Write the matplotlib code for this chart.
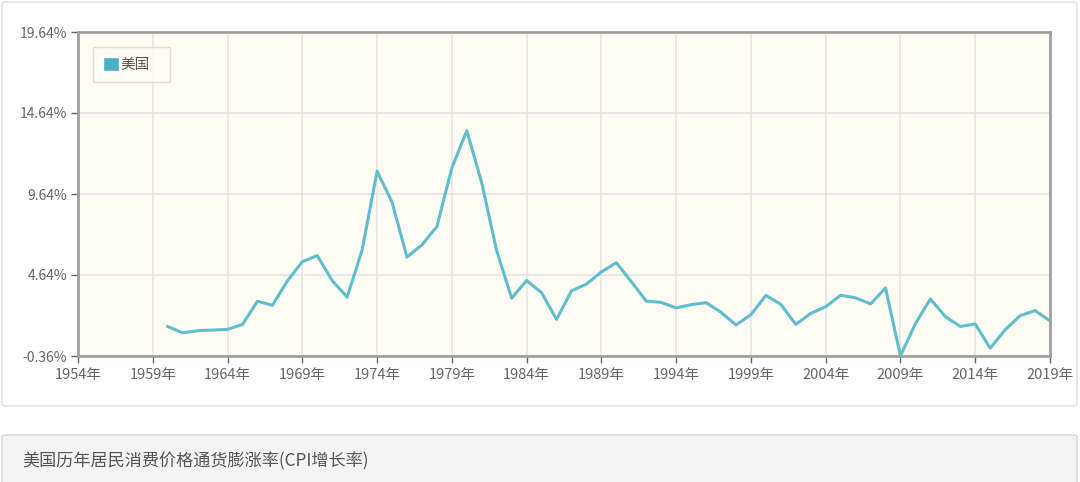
import matplotlib.pyplot as plt
from matplotlib.patches import FancyBboxPatch, Rectangle

plt.rcParams['font.family'] = ['Noto Sans CJK SC', 'DejaVu Sans']

years = list(range(1960, 2020))
cpi = [1.46, 1.07, 1.20, 1.24, 1.28, 1.59, 3.02, 2.77, 4.27, 5.46,
       5.84, 4.29, 3.27, 6.18, 11.05, 9.14, 5.74, 6.50, 7.63, 11.25,
       13.55, 10.33, 6.13, 3.21, 4.30, 3.55, 1.90, 3.66, 4.08, 4.83,
       5.40, 4.23, 3.03, 2.95, 2.61, 2.81, 2.93, 2.34, 1.55, 2.19,
       3.38, 2.83, 1.59, 2.27, 2.68, 3.39, 3.23, 2.85, 3.84, -0.36,
       1.64, 3.16, 2.07, 1.46, 1.62, 0.12, 1.26, 2.13, 2.44, 1.81]
xticks = list(range(1954, 2020, 5))
yticks = [-0.36, 4.64, 9.64, 14.64, 19.64]

W, H = 1080, 482
fig = plt.figure(figsize=(W / 100, H / 100), dpi=100)

# card frames behind the chart
card = FancyBboxPatch((2 / W, 76 / H), 1075 / W, 404 / H,
                      boxstyle='round,pad=0,rounding_size=0.004',
                      transform=fig.transFigure, fc='white', ec='#e3e3e3', lw=1.2, zorder=-5)
foot = FancyBboxPatch((2 / W, -10 / H), 1075 / W, 57 / H,
                      boxstyle='round,pad=0,rounding_size=0.004',
                      transform=fig.transFigure, fc='#f4f4f4', ec='#dcdcdc', lw=1.2, zorder=-5)
fig.patches.extend([card, foot])
fig.text(22 / W, 1 - 461 / H, '美国历年居民消费价格通货膨涨率(CPI增长率)', fontsize=12.3,
         color='#555555', va='center', ha='left')

ax = fig.add_axes([78 / W, 1 - 356 / H, 972 / W, 324 / H])
ax.set_facecolor('#fffcf4')
ax.plot(years, cpi, color='#5fbdd0', lw=2.2)
ax.set_xlim(1954, 2019)
ax.set_ylim(-0.36, 19.64)
ax.set_xticks(xticks)
ax.set_xticklabels([f'{y}年' for y in xticks])
ax.set_yticks(yticks)
ax.set_yticklabels([f'{v:.2f}%' for v in yticks])
ax.grid(True, color='#e2e2e2', lw=1.1)
ax.set_axisbelow(True)
for s in ax.spines.values():
    s.set_color('#a0a0a0')
    s.set_linewidth(2)
ax.tick_params(colors='#666666', length=5, width=1, direction='out')
ax.tick_params(axis='x', labelsize=10.5, pad=4)
ax.tick_params(axis='y', labelsize=10, pad=3)

sq = Rectangle((0, 0), 1, 1, fc='#4bafc9', ec='white', lw=1)
leg = ax.legend([sq], ['美国'], loc='upper left',
                bbox_to_anchor=(15 / 972, 1 - 15 / 324 - 0.01, 77 / 972, 0.01), mode='expand',
                frameon=True, fontsize=10.5, handlelength=1.1, handleheight=1.1,
                borderpad=0.7, handletextpad=0.1, fancybox=False, borderaxespad=0)
leg.get_frame().set_edgecolor('#d8d8d8')
leg.get_frame().set_facecolor('#fffcf4')
leg.get_frame().set_linewidth(1)
for t in leg.get_texts():
    t.set_color('#555555')

fig.savefig('out.png', dpi=100)
